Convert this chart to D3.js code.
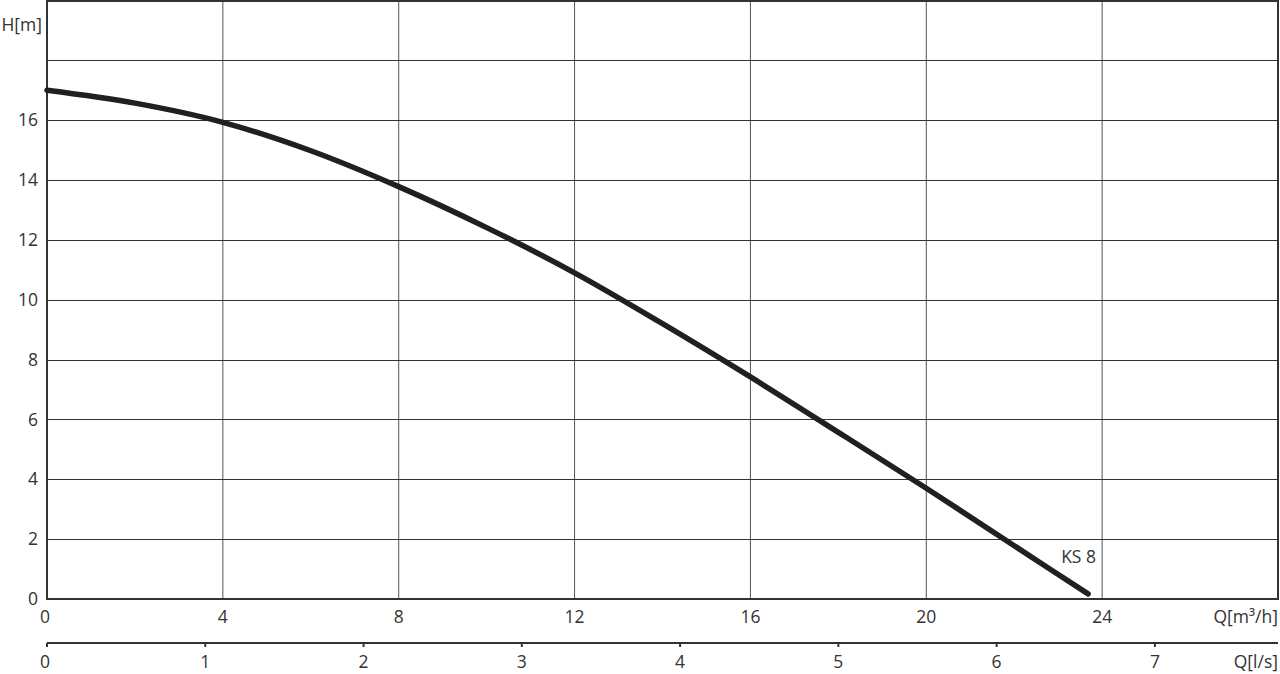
<!DOCTYPE html>
<html>
<head>
<meta charset="utf-8">
<script src="https://cdn.jsdelivr.net/npm/d3@7"></script>
<style>
html,body{margin:0;padding:0;background:#fff;}
svg{display:block;}
text{font-family:"Open Sans","DejaVu Sans",sans-serif;fill:#333;}
</style>
</head>
<body>
<svg id="chart" width="1280" height="674"></svg>
<script>
// Data
const flowM3h = [0, 2, 4, 6, 8, 10, 12, 14, 16, 18, 20, 22, 23.68];
const headM   = [17.0, 16.57, 15.93, 14.98, 13.78, 12.41, 10.9, 9.2, 7.42, 5.57, 3.7, 1.78, 0.17];
const xTicksM3h = [0, 4, 8, 12, 16, 20, 24];
const xGridM3h = [4, 8, 12, 16, 20, 24];
const yTicks = [0, 2, 4, 6, 8, 10, 12, 14, 16];
const yGrid = [2, 4, 6, 8, 10, 12, 14, 16, 18];
const xTicksLs = [0, 1, 2, 3, 4, 5, 6, 7];
const seriesName = "KS 8";

const FS = 17.5;
const svg = d3.select("#chart");
const L = 47, R = 1278, T = 0.5, B = 599;
const x = d3.scaleLinear().domain([0, 28]).range([L, R]);
const y = d3.scaleLinear().domain([0, 20]).range([B, T]);
const xLs = d3.scaleLinear().domain([0, 28 / 3.6]).range([L, R]);

// grid
svg.append("g").selectAll("line").data(xGridM3h).join("line")
  .attr("x1", d => x(d)).attr("x2", d => x(d)).attr("y1", T).attr("y2", B)
  .attr("stroke", "#555").attr("stroke-width", 1);
svg.append("g").selectAll("line").data(yGrid).join("line")
  .attr("x1", L).attr("x2", R).attr("y1", d => Math.round(y(d)) + 0.5).attr("y2", d => Math.round(y(d)) + 0.5)
  .attr("stroke", "#333").attr("stroke-width", 1);

// frame
svg.append("rect").attr("x", L).attr("y", 1).attr("width", R - L).attr("height", B - 1)
  .attr("fill", "none").attr("stroke", "#333").attr("stroke-width", 2);

// y labels
svg.append("g").selectAll("text").data(yTicks).join("text")
  .attr("x", 38).attr("y", d => y(d)).attr("dy", "0.35em")
  .attr("text-anchor", "end").attr("font-size", FS).text(d => d);
svg.append("text").attr("x", 42).attr("y", 25).attr("dy", "0.35em")
  .attr("text-anchor", "end").attr("font-size", FS).text("H[m]");

// top x labels
svg.append("g").selectAll("text").data(xTicksM3h).join("text")
  .attr("x", d => x(d) - (d === 0 ? 2 : 0)).attr("y", 617).attr("dy", "0.35em")
  .attr("text-anchor", "middle").attr("font-size", FS).text(d => d);
svg.append("text").attr("x", 1278).attr("y", 617).attr("dy", "0.35em")
  .attr("text-anchor", "end").attr("font-size", FS).text("Q[m³/h]");

// second axis (l/s)
const ax2 = svg.append("g");
ax2.append("line").attr("x1", L).attr("x2", R).attr("y1", 643).attr("y2", 643)
  .attr("stroke", "#333").attr("stroke-width", 2);
ax2.selectAll("line.t").data(xTicksLs).join("line").attr("class", "t")
  .attr("x1", d => xLs(d)).attr("x2", d => xLs(d)).attr("y1", 643).attr("y2", 647)
  .attr("stroke", "#333").attr("stroke-width", 2);
ax2.selectAll("text").data(xTicksLs).join("text")
  .attr("x", d => xLs(d) - (d === 0 ? 2 : 0)).attr("y", 662).attr("dy", "0.35em")
  .attr("text-anchor", "middle").attr("font-size", FS).text(d => d);
svg.append("text").attr("x", 1278).attr("y", 662).attr("dy", "0.35em")
  .attr("text-anchor", "end").attr("font-size", FS).text("Q[l/s]");

// curve
const pts = flowM3h.map((q, i) => [q, headM[i]]);
const line = d3.line().x(d => x(d[0])).y(d => y(d[1])).curve(d3.curveCatmullRom.alpha(0.5));
svg.append("path").datum(pts).attr("d", line)
  .attr("fill", "none").attr("stroke", "#231f20").attr("stroke-width", 5.5)
  .attr("stroke-linecap", "round");

svg.append("text").attr("x", 1096).attr("y", 557).attr("dy", "0.35em")
  .attr("text-anchor", "end").attr("font-size", FS).text(seriesName);
</script>
</body>
</html>
